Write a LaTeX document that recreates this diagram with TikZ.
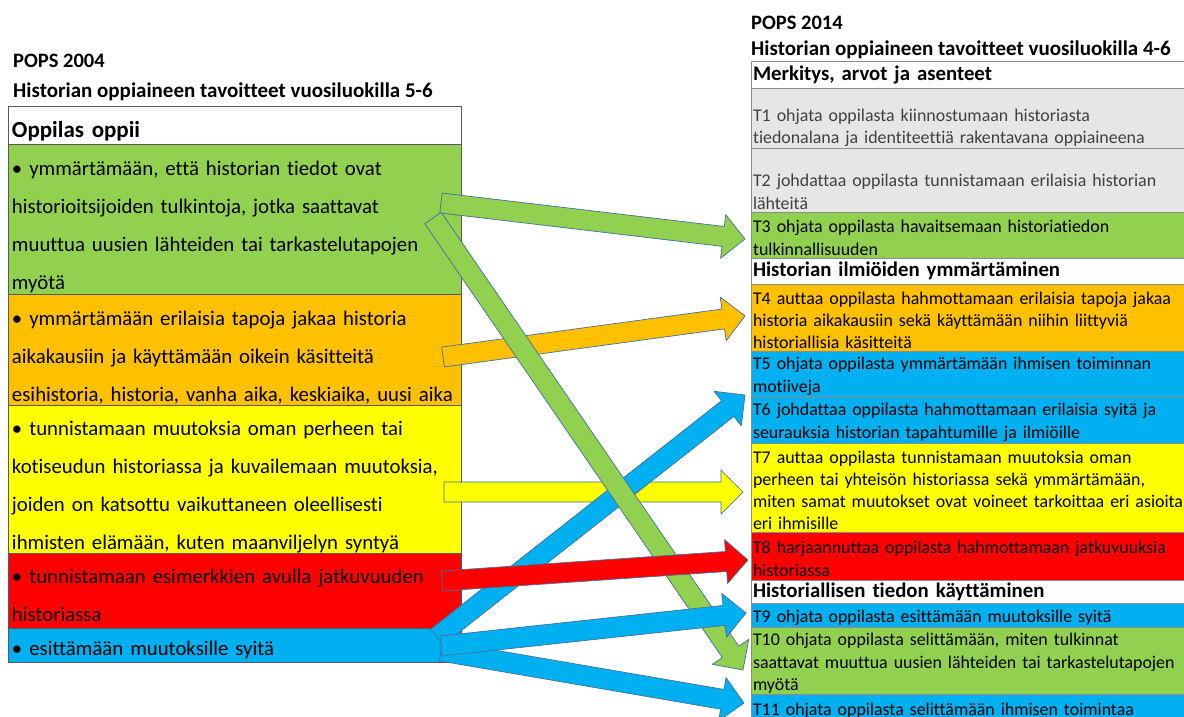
\documentclass[tikz,border=0pt]{standalone}
\usepackage{fontspec}
\setmainfont{Carlito}[Ligatures=CommonOff]
\usetikzlibrary{calc, positioning}

\definecolor{grn}{HTML}{92D050}
\definecolor{org}{HTML}{FFC000}
\definecolor{ylw}{HTML}{FFFF00}
\definecolor{rd}{HTML}{FF0000}
\definecolor{blu}{HTML}{00B0F0}
\definecolor{gry}{HTML}{E6E6E6}
\definecolor{arrline}{HTML}{41719C}

% block arrow: fill colour, from, to
\newcommand\blockarrow[3]{%
  \coordinate (bahead) at ($(#3)!22pt!(#2)$);
  \filldraw[fill=#1, draw=arrline, line width=0.7pt]
    ($(#2)!10pt!90:(#3)$) -- ($(bahead)!10pt!-90:(#2)$) -- ($(bahead)!22pt!-90:(#2)$) -- (#3)
    -- ($(bahead)!22pt!90:(#2)$) -- ($(bahead)!10pt!90:(#2)$) -- ($(#2)!10pt!-90:(#3)$) -- cycle;
}

\begin{document}
\begin{tikzpicture}[x=1pt, y=-1pt, line join=round,
    title/.style={anchor=west, inner sep=0pt, font=\bfseries\fontsize{20.5}{22}\selectfont},
    subtitle/.style={title, font=\bfseries\fontsize{21}{24}\selectfont},
    leftrow/.style={draw=black!65, line width=0.9pt, anchor=north, minimum width=453pt,
      text width=445pt, align=left, inner xsep=4pt, inner ysep=0pt, outer sep=0pt, text height=30pt,
      font=\fontsize{20.8}{38}\selectfont},
    rightrow/.style={draw=black!45, line width=0.8pt, anchor=north, minimum width=460pt,
      text width=456pt, align=left, inner xsep=1pt, inner ysep=0pt, outer sep=0pt, text height=18pt,
      font=\fontsize{17.9}{22.2}\selectfont},
    sect/.style={rightrow, text height=15pt, font=\bfseries\fontsize{20.8}{22}\selectfont}]
  \useasboundingbox (0,0) rectangle (1184,716);
  \fill[white] (0,0) rectangle (1184,716);

  % POPS 2004
  \node[title] (title04) at (13,61) {POPS 2004};
  \node[subtitle] (sub04) at (13,92) {Historian oppiaineen tavoitteet vuosiluokilla 5-6};

  \node[leftrow, anchor=north west, minimum height=38pt, text height=28pt,
    font=\bfseries\fontsize{23}{24}\selectfont] (l0) at (8,106) {Oppilas oppii};
  \node[leftrow, fill=grn, minimum height=150pt, below=0pt of l0] (l1)
    {• ymmärtämään, että historian tiedot ovat\\ historioitsijoiden tulkintoja, jotka saattavat\\
     muuttua uusien lähteiden tai tarkastelutapojen\\ myötä};
  \node[leftrow, fill=org, minimum height=111pt, below=0pt of l1] (l2)
    {• ymmärtämään erilaisia tapoja jakaa historia\\ aikakausiin ja käyttämään oikein käsitteitä\\
     esihistoria, historia, vanha aika, keskiaika, uusi aika};
  \node[leftrow, fill=ylw, minimum height=148pt, below=0pt of l2] (l3)
    {• tunnistamaan muutoksia oman perheen tai\\ kotiseudun historiassa ja kuvailemaan muutoksia,\\
     joiden on katsottu vaikuttaneen oleellisesti\\ ihmisten elämään, kuten maanviljelyn syntyä};
  \node[leftrow, fill=rd, minimum height=75pt, text height=25pt, below=0pt of l3] (l4)
    {• tunnistamaan esimerkkien avulla jatkuvuuden\\ historiassa};
  \node[leftrow, fill=blu, minimum height=34pt, text height=25pt, below=0pt of l4] (l5)
    {• esittämään muutoksille syitä};

  % POPS 2014
  \node[title] (title14) at (751,23) {POPS 2014};
  \node[subtitle] (sub14) at (751,50) {Historian oppiaineen tavoitteet vuosiluokilla 4-6};

  \node[sect, anchor=north west, minimum height=27pt] (m1) at (751,61) {Merkitys, arvot ja asenteet};
  \node[rightrow, fill=gry, text=black!75, minimum height=60pt, text height=32pt, below=0pt of m1] (t1)
    {T1 ohjata oppilasta kiinnostumaan historiasta\\ tiedonalana ja identiteettiä rakentavana oppiaineena};
  \node[rightrow, fill=gry, text=black!75, minimum height=64pt, text height=36pt, below=0pt of t1] (t2)
    {T2 johdattaa oppilasta tunnistamaan erilaisia historian\\ lähteitä};
  \node[rightrow, fill=grn, minimum height=46pt, below=0pt of t2] (t3)
    {T3 ohjata oppilasta havaitsemaan historiatiedon\\ tulkinnallisuuden};
  \node[sect, minimum height=26pt, below=0pt of t3] (m2) {Historian ilmiöiden ymmärtäminen};
  \node[rightrow, fill=org, minimum height=67pt, below=0pt of m2] (t4)
    {T4 auttaa oppilasta hahmottamaan erilaisia tapoja jakaa\\ historia aikakausiin sekä käyttämään niihin liittyviä\\
     historiallisia käsitteitä};
  \node[rightrow, fill=blu, minimum height=45pt, below=0pt of t4] (t5)
    {T5 ohjata oppilasta ymmärtämään ihmisen toiminnan\\ motiiveja};
  \node[rightrow, fill=blu, minimum height=47pt, below=0pt of t5] (t6)
    {T6 johdattaa oppilasta hahmottamaan erilaisia syitä ja\\ seurauksia historian tapahtumille ja ilmiöille};
  \node[rightrow, fill=ylw, minimum height=89pt, below=0pt of t6] (t7)
    {T7 auttaa oppilasta tunnistamaan muutoksia oman\\ perheen tai yhteisön historiassa sekä ymmärtämään,\\
     miten samat muutokset ovat voineet tarkoittaa eri asioita\\ eri ihmisille};
  \node[rightrow, fill=rd, minimum height=48pt, below=0pt of t7] (t8)
    {T8 harjaannuttaa oppilasta hahmottamaan jatkuvuuksia\\ historiassa};
  \node[sect, minimum height=23pt, below=0pt of t8] (m3) {Historiallisen tiedon käyttäminen};
  \node[rightrow, fill=blu, minimum height=24pt, below=0pt of m3] (t9)
    {T9 ohjata oppilasta esittämään muutoksille syitä};
  \node[rightrow, fill=grn, minimum height=67pt, below=0pt of t9] (t10)
    {T10 ohjata oppilasta selittämään, miten tulkinnat\\ saattavat muuttua uusien lähteiden tai tarkastelutapojen\\ myötä};
  \node[rightrow, fill=blu, minimum height=28pt, below=0pt of t10] (t11)
    {T11 ohjata oppilasta selittämään ihmisen toimintaa};

  % arrow ends
  \coordinate (g1s) at (441,203);  \coordinate (g1e) at (745,239);
  \coordinate (g2s) at (433,218);  \coordinate (g2e) at (743,670);
  \coordinate (o1s) at (443,357);  \coordinate (o1e) at (745,316);
  \coordinate (y1s) at (444,492);  \coordinate (y1e) at (743,492);
  \coordinate (r1s) at (442,581);  \coordinate (r1e) at (748,560);
  \coordinate (b1s) at (437,637);  \coordinate (b1e) at (745,395);
  \coordinate (b2s) at (441,646);  \coordinate (b2e) at (746,613);
  \coordinate (b3s) at (441,651);  \coordinate (b3e) at (744,703);

  % arrows from 2004 to 2014
  \blockarrow{grn}{g1s}{g1e}
  \blockarrow{org}{o1s}{o1e}
  \blockarrow{ylw}{y1s}{y1e}
  \blockarrow{blu}{b1s}{b1e}
  \blockarrow{grn}{g2s}{g2e}
  \blockarrow{rd}{r1s}{r1e}
  \blockarrow{blu}{b3s}{b3e}
  \blockarrow{blu}{b2s}{b2e}
\end{tikzpicture}
\end{document}
